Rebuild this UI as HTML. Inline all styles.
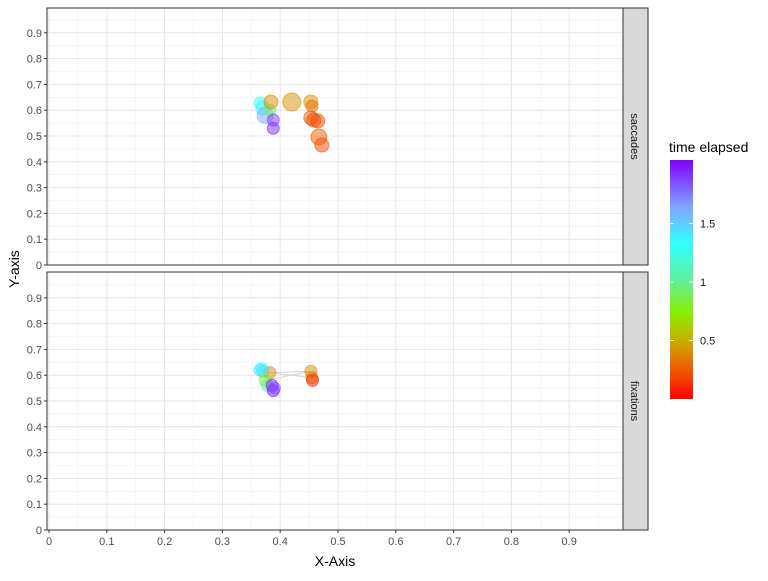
<!DOCTYPE html>
<html><head><meta charset="utf-8"><style>
body{margin:0;background:#fff;font-family:"Liberation Sans",sans-serif}
svg text{font-family:"Liberation Sans",sans-serif}
</style></head><body>
<svg id="c" width="768" height="576" xmlns="http://www.w3.org/2000/svg">
<defs><linearGradient id="rb" x1="0" y1="1" x2="0" y2="0">
<stop offset="0" stop-color="#ff0000"/><stop offset="0.12" stop-color="#ee5a00"/>
<stop offset="0.25" stop-color="#c8b000"/><stop offset="0.36" stop-color="#88f000"/>
<stop offset="0.5" stop-color="#5ef0a0"/><stop offset="0.65" stop-color="#30ffff"/>
<stop offset="0.8" stop-color="#80a8ff"/><stop offset="1" stop-color="#8000ff"/>
</linearGradient></defs>
</svg>
<script>
const sacX=[0.365,0.37,0.374,0.382,0.384,0.42,0.453,0.455,0.453,0.458,0.465,0.467,0.472,0.388,0.388];
const sacY=[0.628,0.608,0.58,0.6,0.632,0.632,0.632,0.616,0.57,0.562,0.558,0.496,0.465,0.562,0.53];
const sacT=[1.25,1.3,1.6,0.9,0.4,0.4,0.4,0.3,0.25,0.2,0.2,0.25,0.2,1.85,1.9];
const sacR=[6,7,8,6,7,9,7,6,7,7,7,8,7,6,6];
const fixX=[0.365,0.37,0.382,0.374,0.378,0.386,0.388,0.453,0.455,0.456,0.39,0.368];
const fixY=[0.62,0.615,0.61,0.58,0.56,0.56,0.54,0.615,0.59,0.58,0.55,0.625];
const fixT=[1.4,1.55,0.4,0.8,1.0,1.9,1.95,0.4,0.3,0.1,1.8,1.3];
const ticks=[0,0.1,0.2,0.3,0.4,0.5,0.6,0.7,0.8,0.9];
const barTicks=[0.5,1,1.5];
const NS="http://www.w3.org/2000/svg";
const svg=document.getElementById('c');
function el(t,a,p){const e=document.createElementNS(NS,t);for(const k in a)e.setAttribute(k,a[k]);(p||svg).appendChild(e);return e;}
const L=47,R=623;
const xs=v=>49+578*v;
function col(t){const stops=[[0,[255,0,0]],[0.24,[238,90,0]],[0.5,[200,176,0]],[0.72,[136,240,0]],[1,[94,240,160]],[1.3,[48,255,255]],[1.6,[128,168,255]],[2,[128,0,255]]];
for(let i=1;i<stops.length;i++){if(t<=stops[i][0]){const a=stops[i-1],b=stops[i],f=(t-a[0])/(b[0]-a[0]);return 'rgb('+a[1].map((c,j)=>Math.round(c+(b[1][j]-c)*f)).join(',')+')';}}return 'rgb(128,0,255)';}
function panel(top,bot,name,X,Y,T,Rr,label,line){
  const ys=v=>bot-258*v;
  const g=el('g',{});
  
  
  el('rect',{x:L,y:top,width:R-L,height:bot-top,fill:'#fff'},g);
  for(let v=0.05;v<1;v+=0.1){el('line',{x1:L,x2:R,y1:ys(v),y2:ys(v),stroke:'#f0f0f0','stroke-width':0.6},g);el('line',{y1:top,y2:bot,x1:xs(v),x2:xs(v),stroke:'#f0f0f0','stroke-width':0.6},g);}
  ticks.forEach(v=>{el('line',{x1:L,x2:R,y1:ys(v),y2:ys(v),stroke:'#e6e6e6','stroke-width':1},g);el('line',{y1:top,y2:bot,x1:xs(v),x2:xs(v),stroke:'#e6e6e6','stroke-width':1},g);
    el('line',{x1:L-3,x2:L,y1:ys(v),y2:ys(v),stroke:'#333'},g);
    const t=el('text',{x:L-5,y:ys(v)+4,'text-anchor':'end','font-size':11,fill:'#4d4d4d'},g);t.textContent=String(v);
    });
  if(line){const idx=X.map((_,i)=>i).sort((a,b)=>T[a]-T[b]);
    const pts=idx.map(i=>xs(X[i])+','+ys(Y[i])).join(' ');
    el('polyline',{points:pts,fill:'none',stroke:'#ccc','stroke-width':0.8},g);}
  X.forEach((x,i)=>{const c=el('circle',{cx:xs(x),cy:ys(Y[i]),r:Rr?Rr[i]:6,fill:col(T[i]),'fill-opacity':0.5,stroke:col(T[i]),'stroke-opacity':0.6},g);
    });
  el('rect',{x:L,y:top,width:R-L,height:bot-top,fill:'none',stroke:'#333'},g);
  el('rect',{x:R,y:top,width:25,height:bot-top,fill:'#d9d9d9',stroke:'#333'},g);
  const s=el('text',{x:0,y:0,'font-size':11,fill:'#1a1a1a','text-anchor':'middle',transform:`translate(${R+8},${(top+bot)/2}) rotate(90)`},g);
  s.textContent=label;
}
panel(8,265,'saccades',sacX,sacY,sacT,sacR,'saccades',false);
panel(272,530,'fixations',fixX,fixY,fixT,null,'fixations',true);
ticks.forEach(v=>{el('line',{x1:xs(v),x2:xs(v),y1:530,y2:533,stroke:'#333'});
  const t=el('text',{x:xs(v),y:545,'text-anchor':'middle','font-size':11,fill:'#4d4d4d'});t.textContent=String(v);
  });
let t=el('text',{x:335,y:566,'text-anchor':'middle','font-size':14,fill:'#000'});t.textContent='X-Axis';

t=el('text',{x:0,y:0,'text-anchor':'middle','font-size':14,fill:'#000',transform:'translate(19,269) rotate(-90)'});t.textContent='Y-axis';

t=el('text',{x:669,y:152,'font-size':14,fill:'#000'});t.textContent='time elapsed';

const cb=el('rect',{x:670,y:160,width:23,height:239,fill:'url(#rb)'});

const cy=v=>399-117*v;
barTicks.forEach(v=>{el('line',{x1:670,x2:674,y1:cy(v),y2:cy(v),stroke:'#fff'});el('line',{x1:689,x2:693,y1:cy(v),y2:cy(v),stroke:'#fff'});
  const l=el('text',{x:700,y:cy(v)+4,'font-size':11,fill:'#1a1a1a'});l.textContent=String(v);
  });
</script>
</body></html>
